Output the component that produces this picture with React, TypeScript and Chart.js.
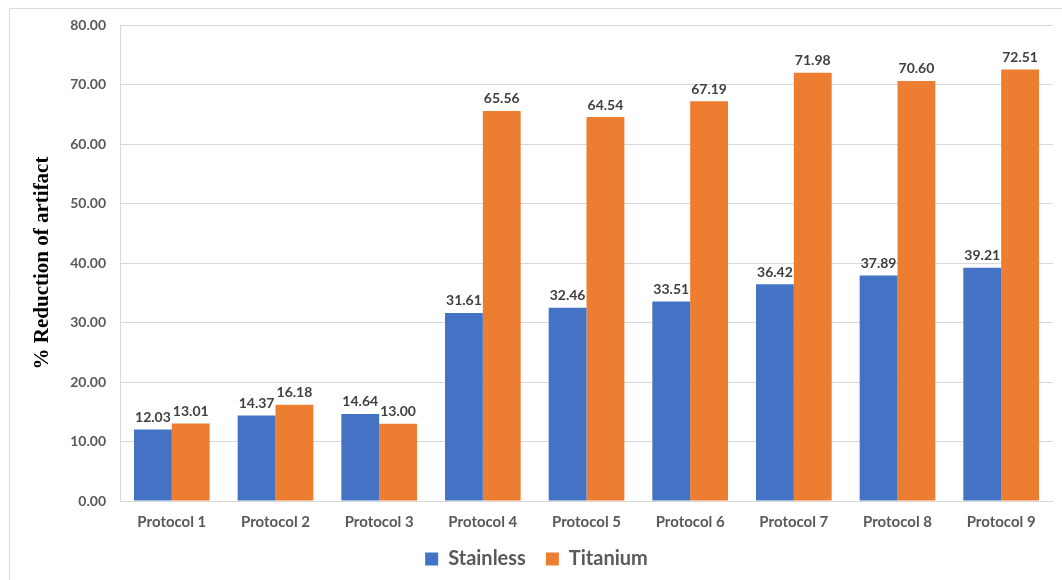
import React, { useEffect, useRef } from "react";
import { Chart, registerables } from "chart.js";

Chart.register(...registerables);

const categories = [
  "Protocol 1",
  "Protocol 2",
  "Protocol 3",
  "Protocol 4",
  "Protocol 5",
  "Protocol 6",
  "Protocol 7",
  "Protocol 8",
  "Protocol 9",
];
const stainless = [12.03, 14.37, 14.64, 31.61, 32.46, 33.51, 36.42, 37.89, 39.21];
const titanium = [13.01, 16.18, 13.0, 65.56, 64.54, 67.19, 71.98, 70.6, 72.51];
const yTicks = [0, 10, 20, 30, 40, 50, 60, 70, 80];

const FONT = "Lato, 'Open Sans', sans-serif";

// Frame lines along the top and left edge of the figure
const framePlugin = {
  id: "frame",
  beforeDraw(chart: any) {
    const { ctx } = chart;
    ctx.save();
    ctx.fillStyle = "#ffffff";
    ctx.fillRect(0, 0, chart.width, chart.height);
    ctx.strokeStyle = "#d9d9d9";
    ctx.lineWidth = 1;
    ctx.beginPath();
    ctx.moveTo(9.5, chart.height);
    ctx.lineTo(9.5, 8.5);
    ctx.lineTo(chart.width, 8.5);
    ctx.stroke();
    ctx.restore();
  },
};

// Value labels above each bar
const valueLabelPlugin = {
  id: "valueLabels",
  afterDatasetsDraw(chart: any) {
    const { ctx } = chart;
    ctx.save();
    ctx.font = `bold 14px ${FONT}`;
    ctx.fillStyle = "#404040";
    ctx.textAlign = "center";
    ctx.textBaseline = "bottom";
    chart.data.datasets.forEach((ds: any, di: number) => {
      const meta = chart.getDatasetMeta(di);
      meta.data.forEach((bar: any, i: number) => {
        ctx.fillText(Number(ds.data[i]).toFixed(2), bar.x, bar.y - 5);
      });
    });
    ctx.restore();
  },
};

export default function App() {
  const canvasRef = useRef<HTMLCanvasElement | null>(null);

  useEffect(() => {
    if (!canvasRef.current) return;
    const chart = new Chart(canvasRef.current, {
      type: "bar",
      data: {
        labels: categories,
        datasets: [
          {
            label: "Stainless",
            data: stainless,
            backgroundColor: "#4472C4",
            categoryPercentage: 0.73,
            barPercentage: 1,
          },
          {
            label: "Titanium",
            data: titanium,
            backgroundColor: "#ED7D31",
            categoryPercentage: 0.73,
            barPercentage: 1,
          },
        ],
      },
      options: {
        responsive: false,
        animation: false,
        layout: { padding: { left: 20, right: 9, top: 25, bottom: 1 } },
        plugins: {
          legend: {
            position: "bottom",
            labels: {
              color: "#595959",
              font: { family: FONT, size: 20, weight: "bold" },
              boxWidth: 13,
              boxHeight: 13,
              padding: 20,
            },
          },
          tooltip: { enabled: false },
        },
        scales: {
          x: {
            grid: { display: false, drawTicks: false },
            border: { color: "#d9d9d9" },
            ticks: {
              color: "#595959",
              font: { family: FONT, size: 15, weight: "bold" },
              padding: 12,
            },
            afterFit(scale: any) {
              scale.height = 28;
            },
          },
          y: {
            min: 0,
            max: 80,
            afterBuildTicks(scale: any) {
              scale.ticks = yTicks.map((v) => ({ value: v }));
            },
            grid: { color: "#d9d9d9", drawTicks: false },
            border: { color: "#d9d9d9" },
            ticks: {
              color: "#595959",
              font: { family: FONT, size: 14, weight: "bold" },
              padding: 14,
              callback: (v: any) => Number(v).toFixed(2),
            },
            title: {
              display: true,
              text: "% Reduction of artifact",
              color: "#000000",
              font: { family: "'Liberation Serif', serif", size: 21, weight: "bold" },
              padding: { top: 10, bottom: 0 },
            },
            afterFit(scale: any) {
              scale.width = 100;
            },
          },
        },
      },
      plugins: [framePlugin, valueLabelPlugin],
    } as any);
    return () => chart.destroy();
  }, []);

  return (
    <div style={{ position: "absolute", left: 0, top: 0, width: 1062, height: 580 }}>
      <canvas ref={canvasRef} width={1062} height={580} />
    </div>
  );
}
